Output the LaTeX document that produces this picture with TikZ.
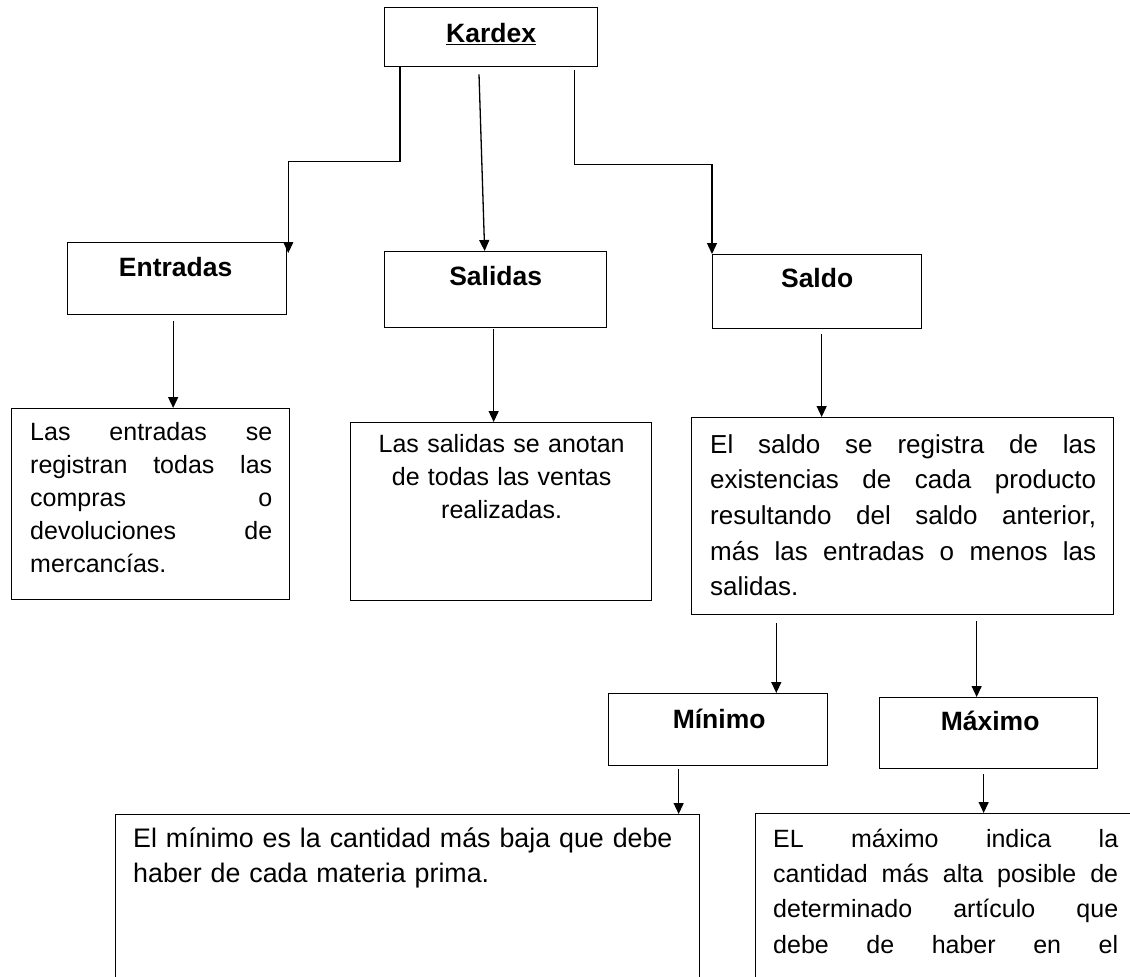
\documentclass[tikz,border=0pt]{standalone}
\usepackage{fontspec}
\setmainfont{Liberation Sans}
\usetikzlibrary{arrows.meta, positioning, calc}

\tikzset{
  caja/.style={draw, line width=1.3pt, inner sep=0pt, anchor=north west},
  titulo/.style={font=\bfseries\fontsize{26.5}{30}\selectfont, anchor=base, inner sep=0pt},
  texto/.style={anchor=north west, inner sep=0pt, align=justify,
    execute at begin node={\tolerance=10000\hyphenpenalty=10000}},
  flecha/.style={line width=1.3pt, -{Triangle[length=11pt,width=10pt]}},
}

\begin{document}
\begin{tikzpicture}[x=1pt, y=-1pt]
  \clip (0,0) rectangle (1130,977);
  \useasboundingbox (0,0) rectangle (1130,977);

  % cajas de titulo
  \node[caja, minimum width=213pt, minimum height=59pt] (kardex) at (384,7) {};
  \node[caja, minimum width=219pt, minimum height=72pt] (entradas) at (67,242) {};
  \node[caja, minimum width=222pt, minimum height=76pt] (salidas) at (384,251) {};
  \node[caja, minimum width=209pt, minimum height=74pt] (saldo) at (712,254) {};
  \node[caja, minimum width=219pt, minimum height=72pt] (minimo) at (608,693) {};
  \node[caja, minimum width=218pt, minimum height=71pt] (maximo) at (879,697) {};

  \node[titulo] (tkardex) at ($(kardex.north)+(0,35.7)$) {\underline{Kardex}};
  \node[titulo] (tentradas) at ($(entradas.north)+(-1.5,34)$) {Entradas};
  \node[titulo] (tsalidas) at ($(salidas.north)+(0,34)$) {Salidas};
  \node[titulo] (tsaldo) at ($(saldo.north)+(0,33)$) {Saldo};
  \node[titulo] (tminimo) at ($(minimo.north)+(1,35)$) {Mínimo};
  \node[titulo] (tmaximo) at ($(maximo.north)+(1.5,33.7)$) {Máximo};

  % cajas de descripcion
  \node[caja, minimum width=278pt, minimum height=191pt] (dentradas) at (11,408) {};
  \node[caja, minimum width=301pt, minimum height=178pt] (dsalidas) at (350,422) {};
  \node[caja, minimum width=422pt, minimum height=197pt] (dsaldo) at (691,417) {};
  \node[caja, minimum width=584pt, minimum height=200pt] (dminimo) at (115,814) {};
  \node[caja, minimum width=420pt, minimum height=200pt] (dmaximo) at (755,813) {};

  \node[texto, text width=242pt, font=\fontsize{25}{33}\selectfont] (xentradas)
    at ($(dentradas.north west)+(19,13.75)$)
    {Las entradas se\linebreak registran todas las\linebreak compras o\linebreak
     devoluciones de\linebreak mercancías.};
  \node[texto, anchor=north, align=center, text width=300pt,
    font=\fontsize{25}{33}\selectfont] (xsalidas) at ($(dsalidas.north)+(0.5,12.5)$)
    {Las salidas se anotan\\ de todas las ventas\\ realizadas.};
  \node[texto, text width=386pt, font=\fontsize{26}{35.7}\selectfont] (xsaldo)
    at ($(dsaldo.north west)+(19,17)$)
    {El saldo se registra de las\linebreak existencias de cada producto\linebreak
     resultando del saldo anterior,\linebreak más las entradas o menos las\linebreak salidas.};
  \node[texto, align=left, text width=560pt, font=\fontsize{26.8}{35}\selectfont] (xminimo)
    at ($(dminimo.north west)+(18,14)$)
    {El mínimo es la cantidad más baja que debe\\ haber de cada materia prima.};
  \node[texto, text width=345pt, font=\fontsize{25}{35.3}\selectfont] (xmaximo)
    at ($(dmaximo.north west)+(18,15.75)$)
    {EL máximo indica la\linebreak cantidad más alta posible de\linebreak
     determinado artículo que\linebreak debe de haber en el\linebreak\mbox{}};

  % conectores
  \draw[flecha] ($(kardex.south west)+(16,0)$) -- ++(0,94)
    -| ($(entradas.north east)+(1,11)$);
  \draw[flecha] ($(kardex.south west)+(95,7)$) -- ($(salidas.north)+(-11,0)$);
  \draw[flecha] ($(kardex.south east)+(-24,3)$) -- ++(0,94) -| (saldo.north west);

  \draw[flecha] ($(entradas.south)+(-4,6)$) -- ($(entradas.south |- dentradas.north)+(-4,0)$);
  \draw[flecha] ($(salidas.south)+(-2,1)$) -- ($(salidas.south |- dsalidas.north)+(-2,0)$);
  \draw[flecha] ($(saldo.south)+(4.5,5)$) -- ($(saldo.south |- dsaldo.north)+(4.5,0)$);

  \draw[flecha] ($(minimo.north east |- dsaldo.south)+(-52,8)$) -- ($(minimo.north east)+(-52,0)$);
  \draw[flecha] ($(maximo.north |- dsaldo.south)+(-12,6)$) -- ($(maximo.north)+(-12,0)$);

  \draw[flecha] ($(minimo.south)+(-39.5,3)$) -- ($(minimo.south |- dminimo.north)+(-39.5,0)$);
  \draw[flecha] ($(maximo.south)+(-5,5)$) -- ($(maximo.south |- dmaximo.north)+(-5,0)$);
\end{tikzpicture}
\end{document}
